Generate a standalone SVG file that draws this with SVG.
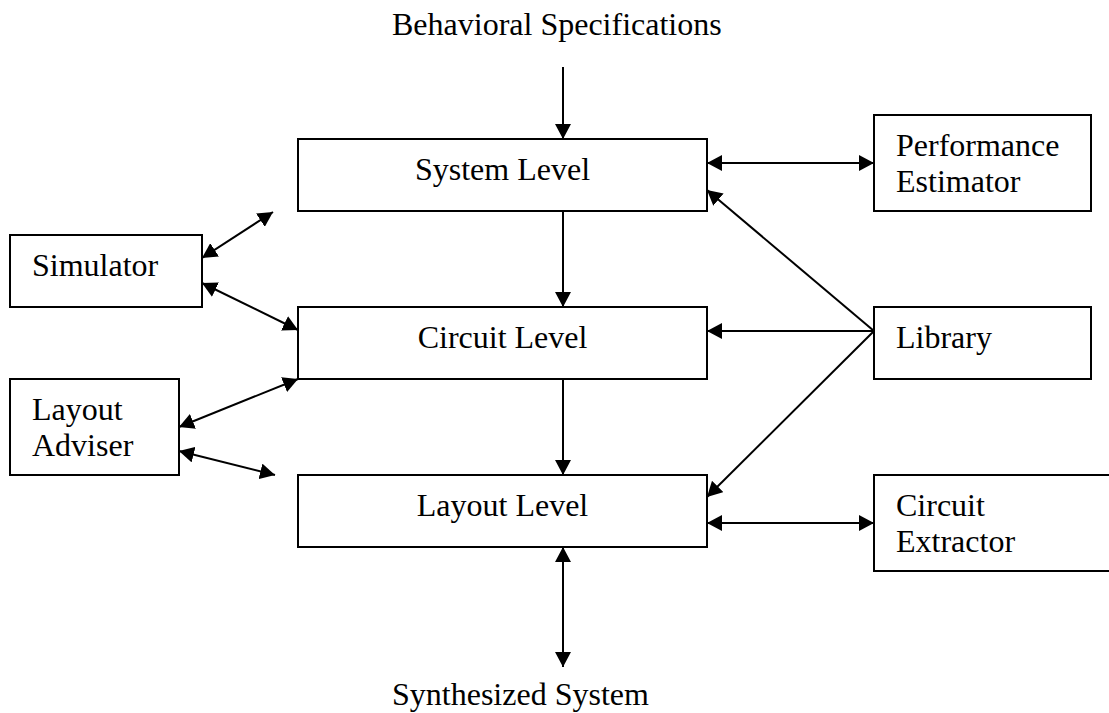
<svg xmlns="http://www.w3.org/2000/svg" width="1109" height="713" viewBox="0 0 1109 713">
  <style>
    .box { fill: #ffffff; stroke: #000000; stroke-width: 2; }
    .lbl { font-family: "Liberation Serif", "Times New Roman", serif; font-size: 32px; fill: #000000; }
    .mid { text-anchor: middle; }
    .edge { stroke: #000000; stroke-width: 2; fill: none; }
  </style>
  <defs>
    <marker id="head" markerUnits="userSpaceOnUse" viewBox="0 0 15 16" refX="15" refY="8" markerWidth="15" markerHeight="16" orient="auto-start-reverse">
      <path d="M0,0 L15,8 L0,16 Z" fill="#000000"/>
    </marker>
  </defs>

  <rect width="1109" height="713" fill="#ffffff"/>

  <!-- connectors -->
  <g id="connectors">
    <line class="edge" x1="563" y1="67" x2="563" y2="139" marker-end="url(#head)"/>
    <line class="edge" x1="563" y1="211" x2="563" y2="307" marker-end="url(#head)"/>
    <line class="edge" x1="563" y1="379" x2="563" y2="475" marker-end="url(#head)"/>
    <line class="edge" x1="563" y1="547" x2="563" y2="667" marker-start="url(#head)" marker-end="url(#head)"/>
    <line class="edge" x1="707" y1="163" x2="874" y2="163" marker-start="url(#head)" marker-end="url(#head)"/>
    <line class="edge" x1="874" y1="331" x2="707" y2="190" marker-end="url(#head)"/>
    <line class="edge" x1="874" y1="331" x2="707" y2="331" marker-end="url(#head)"/>
    <line class="edge" x1="874" y1="331" x2="707" y2="497" marker-end="url(#head)"/>
    <line class="edge" x1="707" y1="523" x2="874" y2="523" marker-start="url(#head)" marker-end="url(#head)"/>
    <line class="edge" x1="202" y1="258" x2="273" y2="212" marker-start="url(#head)" marker-end="url(#head)"/>
    <line class="edge" x1="202" y1="283" x2="298" y2="330" marker-start="url(#head)" marker-end="url(#head)"/>
    <line class="edge" x1="179" y1="427" x2="298" y2="379" marker-start="url(#head)" marker-end="url(#head)"/>
    <line class="edge" x1="179" y1="451" x2="275" y2="475" marker-start="url(#head)" marker-end="url(#head)"/>
  </g>

  <!-- free labels -->
  <g id="input">
    <text class="lbl" x="392" y="35">Behavioral Specifications</text>
  </g>
  <g id="output">
    <text class="lbl" x="392" y="705">Synthesized System</text>
  </g>

  <!-- central levels -->
  <g id="system-level">
    <rect class="box" x="298" y="139" width="409" height="72"/>
    <text class="lbl mid" x="502.5" y="180">System Level</text>
  </g>
  <g id="circuit-level">
    <rect class="box" x="298" y="307" width="409" height="72"/>
    <text class="lbl mid" x="502.5" y="348">Circuit Level</text>
  </g>
  <g id="layout-level">
    <rect class="box" x="298" y="475" width="409" height="72"/>
    <text class="lbl mid" x="502.5" y="516">Layout Level</text>
  </g>

  <!-- left tools -->
  <g id="simulator">
    <rect class="box" x="10" y="235" width="192" height="72"/>
    <text class="lbl" x="32" y="276">Simulator</text>
  </g>
  <g id="layout-adviser">
    <rect class="box" x="10" y="379" width="169" height="96"/>
    <text class="lbl" x="32" y="420">Layout</text>
    <text class="lbl" x="32" y="456">Adviser</text>
  </g>

  <!-- right tools -->
  <g id="performance-estimator">
    <rect class="box" x="874" y="115" width="217" height="96"/>
    <text class="lbl" x="896" y="156">Performance</text>
    <text class="lbl" x="896" y="192">Estimator</text>
  </g>
  <g id="library">
    <rect class="box" x="874" y="307" width="217" height="72"/>
    <text class="lbl" x="896" y="348">Library</text>
  </g>
  <g id="circuit-extractor">
    <rect class="box" x="874" y="475" width="245" height="96"/>
    <text class="lbl" x="896" y="516">Circuit</text>
    <text class="lbl" x="896" y="552">Extractor</text>
  </g>
</svg>
